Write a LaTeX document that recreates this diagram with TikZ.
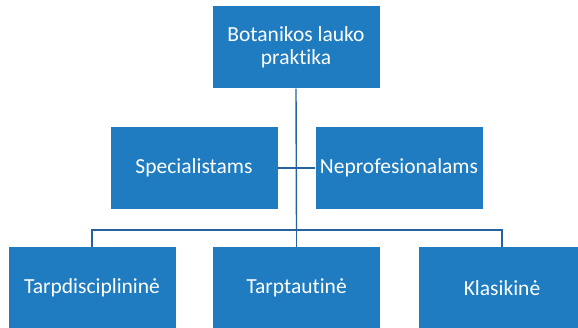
\documentclass[tikz,border=0pt]{standalone}
\usepackage{fontspec}
\setmainfont{Carlito}[Ligatures=NoCommon]
\definecolor{boxblue}{RGB}{31,124,193}
\definecolor{lineblue}{RGB}{38,98,158}
\tikzset{
  box/.style={fill=boxblue, text=white, inner xsep=0pt, inner ysep=0pt,
    minimum width=167pt, minimum height=82pt, align=center,
    font=\fontsize{21.5}{22.5}\selectfont},
  link/.style={draw=lineblue, line width=1.4pt}
}
\begin{document}
\begin{tikzpicture}[x=1pt,y=-1pt]
    \useasboundingbox (0,0) rectangle (578,328);
    % top box
    \node[box] (top) at (296,47.5) {Botanikos lauko\\praktika};
    % middle row
    \node[box] (spec) at (194,168) {Specialistams};
    \node[box] (nepro) at (399,168) {Neprofesionalams};
    % bottom row
    \node[box] (tarpd) at (92,288) {Tarpdisciplininė};
    \node[box] (tarpt) at (296.5,288) {Tarptautinė};
    \node[box] (klas) at (502,288) {Klasikinė};
    % connectors
    \coordinate (bus) at (296.5,230);
    \draw[link] (top.south) -- (bus);
    \draw[link] (spec.east) -- (nepro.west);
    \draw[link] (tarpd.north) |- (bus) -| (klas.north);
    \draw[link] (bus) -- (tarpt.north);
\end{tikzpicture}
\end{document}
